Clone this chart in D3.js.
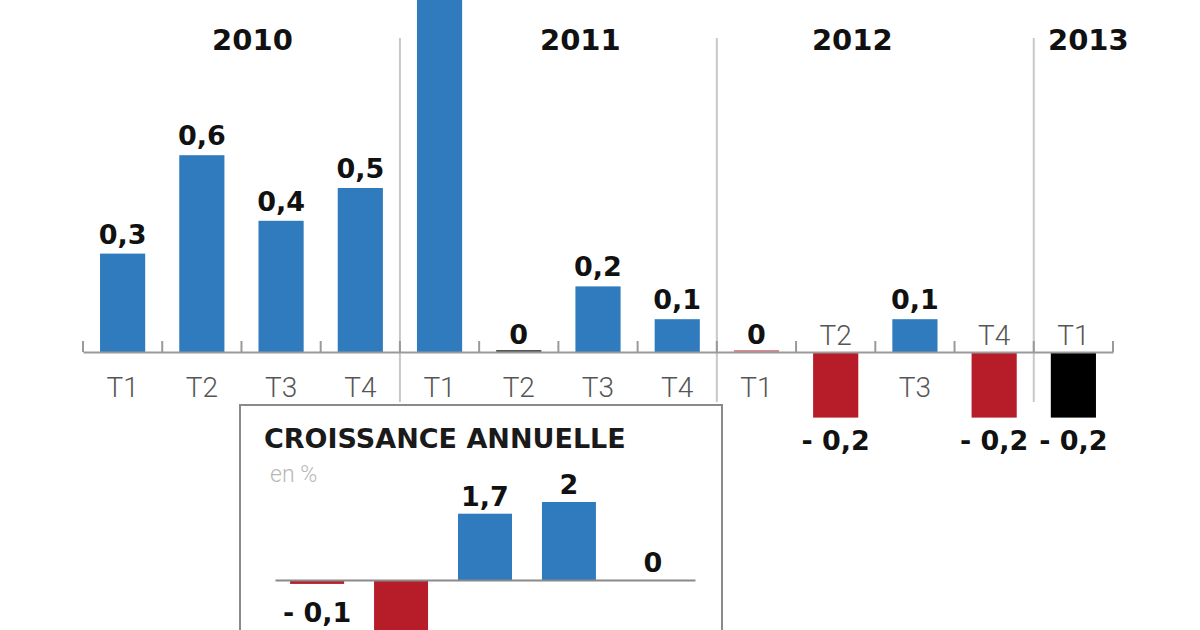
<!DOCTYPE html>
<html>
<head>
<meta charset="utf-8">
<script src="https://cdn.jsdelivr.net/npm/d3@7"></script>
<style>
  html, body { margin: 0; padding: 0; background: #fff; }
  svg { display: block; }
</style>
</head>
<body>
<svg id="chart" width="1200" height="630"></svg>
<script>
// ---- Data ----
const years = ["2010", "2011", "2012", "2013"];
const quarters = ["T1", "T2", "T3", "T4", "T1", "T2", "T3", "T4", "T1", "T2", "T3", "T4", "T1"];
const quarterYears = ["2010", "2010", "2010", "2010", "2011", "2011", "2011", "2011", "2012", "2012", "2012", "2012", "2013"];
const quarterValues = [0.3, 0.6, 0.4, 0.5, 1.1, 0, 0.2, 0.1, 0, -0.2, 0.1, -0.2, -0.2];
const quarterKinds = ["pos", "pos", "pos", "pos", "pos", "zeroDark", "pos", "pos", "zeroRed", "neg", "pos", "neg", "last"];

const annualYears = ["2008", "2009", "2010", "2011", "2012"];
const annualValues = [-0.1, -3.1, 1.7, 2.0, 0];
const insetTitle = "CROISSANCE ANNUELLE";
const insetUnit = "en %";

// ---- Styles ----
const colors = { pos: "#2f7bbd", neg: "#b71c29", last: "#000000", zeroDark: "#555555", zeroRed: "#d98a90" };
const boldFont = "'DejaVu Sans', sans-serif";
const lightFont = "Roboto, 'Open Sans', sans-serif";
const W = 1200, H = 630;

const fmt = v => {
  if (v === 0) return "0";
  const s = Math.abs(v).toString().replace(".", ",");
  return v < 0 ? "- " + s : s;
};

const svg = d3.select("#chart");

// ---- Main chart ----
const keys = quarters.map((q, i) => quarterYears[i] + "-" + q);
const x = d3.scaleBand().domain(keys).range([83, 1113]).paddingInner(0.43).paddingOuter(0.215);
const y = d3.scaleLinear().domain([0, 1]).range([352, 24]);
const step = x.step();
const x0 = x.range()[0];

// year divider lines
const yearStarts = years.map(yr => quarterYears.indexOf(yr));
svg.append("g").selectAll("line")
  .data(yearStarts.slice(1))
  .join("line")
  .attr("x1", i => x0 + i * step).attr("x2", i => x0 + i * step)
  .attr("y1", 38).attr("y2", 402)
  .attr("stroke", "#c8c8c8").attr("stroke-width", 2);

// year labels
const yearNudge = [11, 22, -23, 15];
svg.append("g").selectAll("text")
  .data(years)
  .join("text")
  .attr("x", (yr, i) => {
    const s = yearStarts[i];
    const e = i + 1 < yearStarts.length ? yearStarts[i + 1] : quarters.length;
    return x0 + (s + e) / 2 * step + yearNudge[i];
  })
  .attr("y", 50)
  .attr("text-anchor", "middle")
  .attr("font-family", boldFont).attr("font-weight", "bold").attr("font-size", 29)
  .attr("fill", "#111")
  .text(d => d);

// bars
const data = keys.map((k, i) => ({ k, q: quarters[i], v: quarterValues[i], kind: quarterKinds[i] }));
svg.append("g").selectAll("rect")
  .data(data)
  .join("rect")
  .attr("x", d => x(d.k))
  .attr("width", x.bandwidth())
  .attr("y", d => d.v === 0 ? y(0) - 2 : Math.min(y(d.v), y(0)))
  .attr("height", d => d.v === 0 ? 2 : Math.abs(y(d.v) - y(0)))
  .attr("fill", d => colors[d.kind]);

// axis
const axis = d3.axisBottom(x).tickValues([]).tickSizeOuter(0);
const axisG = svg.append("g").attr("transform", `translate(0,${y(0)})`).call(axis);
axisG.select(".domain").attr("stroke", "#9a9a9a").attr("stroke-width", 2);
axisG.selectAll(".tickmark")
  .data(d3.range(quarters.length + 1))
  .join("line")
  .attr("class", "tickmark")
  .attr("x1", i => x0 + i * step).attr("x2", i => x0 + i * step)
  .attr("y1", 0).attr("y2", -11)
  .attr("stroke", "#9a9a9a").attr("stroke-width", 2);

// quarter labels
svg.append("g").selectAll("text")
  .data(data)
  .join("text")
  .attr("x", d => x(d.k) + x.bandwidth() / 2)
  .attr("y", d => d.v < 0 ? y(0) - 7 : y(0) + 45)
  .attr("text-anchor", "middle")
  .attr("font-family", lightFont).attr("font-weight", 300).attr("font-size", 28)
  .attr("fill", "#555")
  .text(d => d.q);

// value labels (only those that fall inside the picture)
const labelY = d => d.v < 0 ? y(d.v) + 32 : (d.v === 0 ? y(0) - 8 : y(d.v) - 10);
svg.append("g").selectAll("text")
  .data(data.filter(d => labelY(d) - 22 > 0 && labelY(d) < H))
  .join("text")
  .attr("x", d => x(d.k) + x.bandwidth() / 2)
  .attr("y", labelY)
  .attr("text-anchor", "middle")
  .attr("font-family", boldFont).attr("font-weight", "bold").attr("font-size", 27)
  .attr("fill", "#111")
  .text(d => fmt(d.v));

// ---- Inset ----
const inset = svg.append("g");
inset.append("rect")
  .attr("x", 240).attr("y", 405).attr("width", 482).attr("height", 300)
  .attr("fill", "#fff").attr("stroke", "#8a8a8a").attr("stroke-width", 2);

inset.append("text")
  .attr("x", 264).attr("y", 448)
  .attr("font-family", boldFont).attr("font-weight", "bold").attr("font-size", 27)
  .attr("fill", "#1a1a1a")
  .text(insetTitle);

inset.append("text")
  .attr("x", 270).attr("y", 482)
  .attr("font-family", lightFont).attr("font-weight", 300).attr("font-size", 23)
  .attr("fill", "#b8b8b8")
  .text(insetUnit);

const xi = d3.scaleBand().domain(annualYears).range([275, 695]).paddingInner(0.357).paddingOuter(0.18);
const yi = d3.scaleLinear().domain([0, 2]).range([580, 502]);
const adata = annualYears.map((yr, i) => ({ yr, v: annualValues[i] }));

inset.append("g").selectAll("rect")
  .data(adata.filter(d => d.v !== 0))
  .join("rect")
  .attr("x", d => xi(d.yr))
  .attr("width", xi.bandwidth())
  .attr("y", d => Math.min(yi(d.v), yi(0)))
  .attr("height", d => Math.abs(yi(d.v) - yi(0)))
  .attr("fill", d => d.v < 0 ? colors.neg : colors.pos);

const iaxis = d3.axisBottom(xi).tickValues([]).tickSizeOuter(0);
const iaxisG = inset.append("g").attr("transform", `translate(0,${yi(0)})`).call(iaxis);
iaxisG.select(".domain").attr("stroke", "#8a8a8a").attr("stroke-width", 2);

const ilabelY = d => d.v < 0 ? yi(d.v) + 38 : (d.v === 0 ? yi(0) - 8 : yi(d.v) - 8);
inset.append("g").selectAll("text")
  .data(adata.filter(d => ilabelY(d) + 4 < H))
  .join("text")
  .attr("x", d => xi(d.yr) + xi.bandwidth() / 2)
  .attr("y", ilabelY)
  .attr("text-anchor", "middle")
  .attr("font-family", boldFont).attr("font-weight", "bold").attr("font-size", 27)
  .attr("fill", "#111")
  .text(d => fmt(d.v));
</script>
</body>
</html>
